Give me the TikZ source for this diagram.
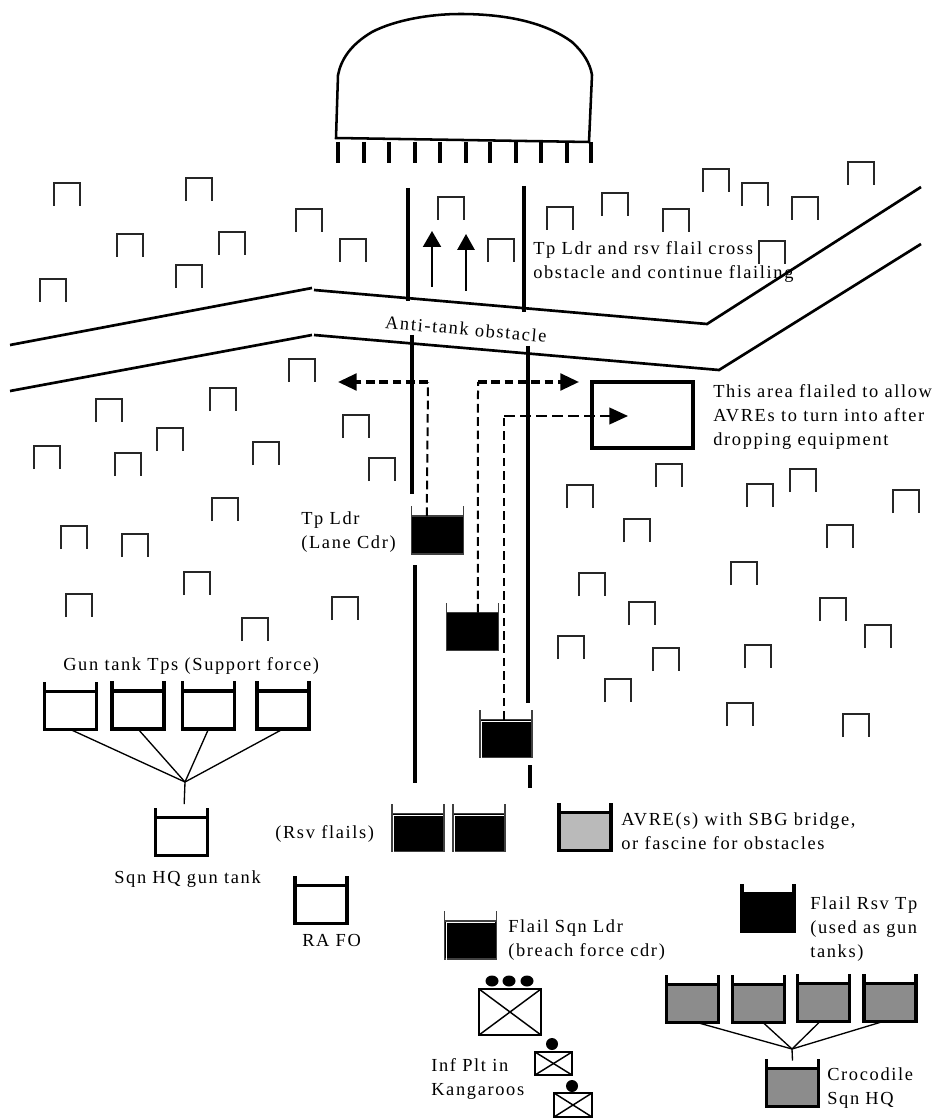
\documentclass[tikz,border=0pt]{standalone}
\usepackage{fontspec}
\setmainfont[LetterSpace=9]{Liberation Serif}
\usetikzlibrary{arrows.meta}
\tikzset{
	tank/.style={draw,minimum width=39pt,minimum height=28.5pt,inner sep=0pt,outer sep=0pt},
	tankopen/.style={line width=2.6pt,fill=white},
	tankgrey/.style={line width=2.6pt,fill=black!45},
	tanklight/.style={line width=2.6pt,fill=black!27},
	tankheavy/.style={line width=2.6pt,fill=black},
	tankthin/.style={line width=1pt,draw=black!75,fill=black},
	wire/.style={line width=0.9pt,black!85},
	lane/.style={line width=2.6pt},
	bank/.style={line width=2pt},
	lbl/.style={anchor=west,align=left,inner sep=0pt,font=\fontsize{13.8pt}{18pt}\selectfont},
	head/.style={-{Triangle[length=14pt,width=12.5pt]}},
	inf/.style={draw,line width=1.1pt,inner sep=0pt,outer sep=0pt},
}
\def\tank[#1](#2)(#3,#4){\node[tank,#1] (#2) at (#3,#4) {};
	\draw[#1,fill=none] (#2.north west) -- ++(0,-10);
	\draw[#1,fill=none] (#2.north east) -- ++(0,-10);}
\def\infbox(#1)(#2,#3)(#4,#5){\node[inf,minimum width=#4*0.75pt,minimum height=#5*0.75pt] (#1) at (#2,#3) {};
	\draw[line width=1.1pt] (#1.north west) -- (#1.south east);
	\draw[line width=1.1pt] (#1.north east) -- (#1.south west);}
\begin{document}
\begin{tikzpicture}[x=0.75pt,y=-0.75pt]
	\useasboundingbox (0,0) rectangle (936,1119);
	
	% objective
	\draw[line width=1.9pt] (336,138) -- (338,75) .. controls (341,60) and (350,45) .. (372,32) .. controls (395,20) and (430,14) .. (460,14) .. controls (505,14) and (545,22) .. (572,42) .. controls (583,52) and (590,63) .. (592,75) -- (589,142) -- cycle;
	\foreach \x in {338,364,389,415,440,466,490,516,541,567,591}
		\draw[line width=2.6pt] (\x,142) -- (\x,163);
	
	% wire
	\foreach \x/\y in {54/183,186/178,296/209,117/234,219/232,176/265,40/279,340/239,438/197,488/239,547/207,602/193,663/209,703/169,742/183,792/197,848/162,759/241,
			289/359,96/399,210/388,343/415,157/428,34/446,115/453,253/442,369/458,212/498,61/526,122/534,184/572,66/594,332/597,242/618,
			567/485,656/464,624/519,579/573,629/602,747/484,790/469,893/490,827/525,731/562,820/598,865/625,745/645,653/648,558/636,605/679,727/703,843/714}
		\draw[wire] (\x,\y+23) -- (\x,\y) -- (\x+26,\y) -- (\x+26,\y+23);
	
	% anti-tank obstacle
	\draw[bank] (10,345) -- (312,288);
	\draw[bank] (314,290) -- (707,324) -- (921,187);
	\draw[bank] (10,391) -- (312,335);
	\draw[bank] (314,335) -- (719,370) -- (921,244);
	
	% lanes
	\draw[lane] (408,188) -- (408,301);
	\draw[lane] (524,186) -- (524,312);
	\draw[lane] (412,335) -- (412,494);
	\draw[lane] (528,346) -- (528,703);
	\draw[lane] (530,765) -- (530,788);
	\draw[lane] (415,565) -- (415,783);
	
	% area
	\draw[line width=2.4pt] (592,382) rectangle (693,448);
	
	% tanks
	\foreach \n/\x/\y in {gunA/70.5/710.5,gunB/138/710,gunC/208.5/710,gunD/283/710,gunHQ/181.5/836.5,fo/321/904.5}
		\tank[tankopen](\n)(\x,\y);
	\foreach \n/\x/\y in {ldr/437.5/535,flB/472.5/631.5,flC/506/738.5,rsvA/418/832.5,rsvB/479/832.5,sqnLdr/470.5/940}
		\tank[tankthin](\n)(\x,\y);
	\foreach \n in {flC,rsvA,rsvB,sqnLdr}
		\draw[white,line width=0.5pt] ([shift={(1.2pt,-1pt)}]\n.south west) -- ([shift={(1.2pt,-1.1pt)}]\n.north west) -- ([shift={(-1pt,-1.1pt)}]\n.north east);
	\tank[tanklight](avre)(585,831.5);
	\tank[tankheavy](rsvTp)(768,912.5);
	\foreach \n/\x/\y in {crA/692.5/1003.5,crB/758.5/1003.5,crC/823.5/1002.5,crD/890/1002.5,crHQ/792.5/1087.5}
		\tank[tankgrey](\n)(\x,\y);
	
	% advance arrows
	\coordinate (tipA) at (432,231);
	\coordinate (tipB) at (466,234);
	\coordinate (tailA) at (432,287);
	\coordinate (tailB) at (466,291);
	\draw[line width=1.5pt,-{Triangle[length=12pt,width=13.5pt]}] (tailA) -- (tipA);
	\draw[line width=1.5pt,-{Triangle[length=12pt,width=13pt]}] (tailB) -- (tipB);
	
	% flailing routes
	\coordinate (cornerA) at (428,382);
	\coordinate (tipC) at (338,382);
	\coordinate (cornerB) at (478,382);
	\coordinate (tipD) at (579,382);
	\coordinate (cornerC) at (504,416);
	\coordinate (tipE) at (628,416);
	\draw[line width=1.5pt,dash pattern=on 6.5pt off 3.5pt] ([xshift=-8]ldr.north) -- ++(0,-9) -- (cornerA);
	\draw[line width=2.5pt,dash pattern=on 6.5pt off 3.5pt,head] (cornerA) -- (tipC);
	\draw[line width=1.5pt,dash pattern=on 6.5pt off 3.5pt] ([xshift=4]flB.north) -- ++(0,-15) -- (cornerB);
	\draw[line width=2.5pt,dash pattern=on 6.5pt off 3.5pt,head] (cornerB) -- (tipD);
	\draw[line width=1.5pt,dash pattern=on 6.5pt off 3.5pt] ([xshift=-1.5]flC.north) -- ++(0,-20) -- (cornerC);
	\draw[line width=1.5pt,dash pattern=on 8pt off 4pt,head] (cornerC) -- (tipE);
	
	% command lines
	\coordinate (junL) at (185,782);
	\coordinate (junR) at (792,1049);
	\foreach \n in {gunA,gunB,gunC,gunD}
		\draw[line width=1pt] (\n.south) -- (junL);
	\draw[line width=1pt] (junL) -- ([xshift=2,yshift=10]gunHQ.north);
	\draw[line width=1pt] ([xshift=3.4]crA.south) -- (junR);
	\draw[line width=1pt] ([xshift=3.4]crB.south) -- (junR);
	\draw[line width=1pt] ([xshift=-2.6]crC.south) -- (junR);
	\draw[line width=1pt] ([xshift=-5.2]crD.south) -- (junR);
	\draw[line width=1pt] (junR) -- ([yshift=6]crHQ.north);
	
	% infantry
	\infbox(plt)(510,1012)(62,46);
	\infbox(secA)(553.5,1063.5)(37,23);
	\infbox(secB)(573,1105)(38,24);
	\foreach \x in {492,509,527}
		\fill (\x,981) ellipse (6.5 and 5.5);
	\fill (552,1044) circle (6);
	\fill (572,1086) circle (6);
	
	% labels
	\node[lbl] (lblCross) at (533,262) {Tp Ldr and rsv flail cross\\obstacle and continue flailing};
	\node[lbl,anchor=center,rotate=-5] (lblObst) at (466,329) {Anti-tank obstacle};
	\node[lbl] (lblArea) at (713,417) {This area flailed to allow\\AVREs to turn into after\\dropping equipment};
	\node[lbl] (lblLdr) at (301,532) {Tp Ldr\\(Lane Cdr)};
	\node[lbl] (lblGun) at (63,666) {Gun tank Tps (Support force)};
	\node[lbl] (lblRsv) at (275,834) {(Rsv flails)};
	\node[lbl] (lblAvre) at (621,831) {AVRE(s) with SBG bridge,\\or fascine for obstacles};
	\node[lbl] (lblHQ) at (114,879) {Sqn HQ gun tank};
	\node[lbl] (lblFO) at (302,940) {RA FO};
	\node[lbl] (lblSqn) at (508,940) {Flail Sqn Ldr\\(breach force cdr)};
	\node[lbl] (lblTp) at (810,929) {Flail Rsv Tp\\(used as gun\\tanks)};
	\node[lbl] (lblInf) at (431,1079) {Inf Plt in\\Kangaroos};
	\node[lbl] (lblCroc) at (827,1088) {Crocodile\\Sqn HQ};
\end{tikzpicture}
\end{document}
